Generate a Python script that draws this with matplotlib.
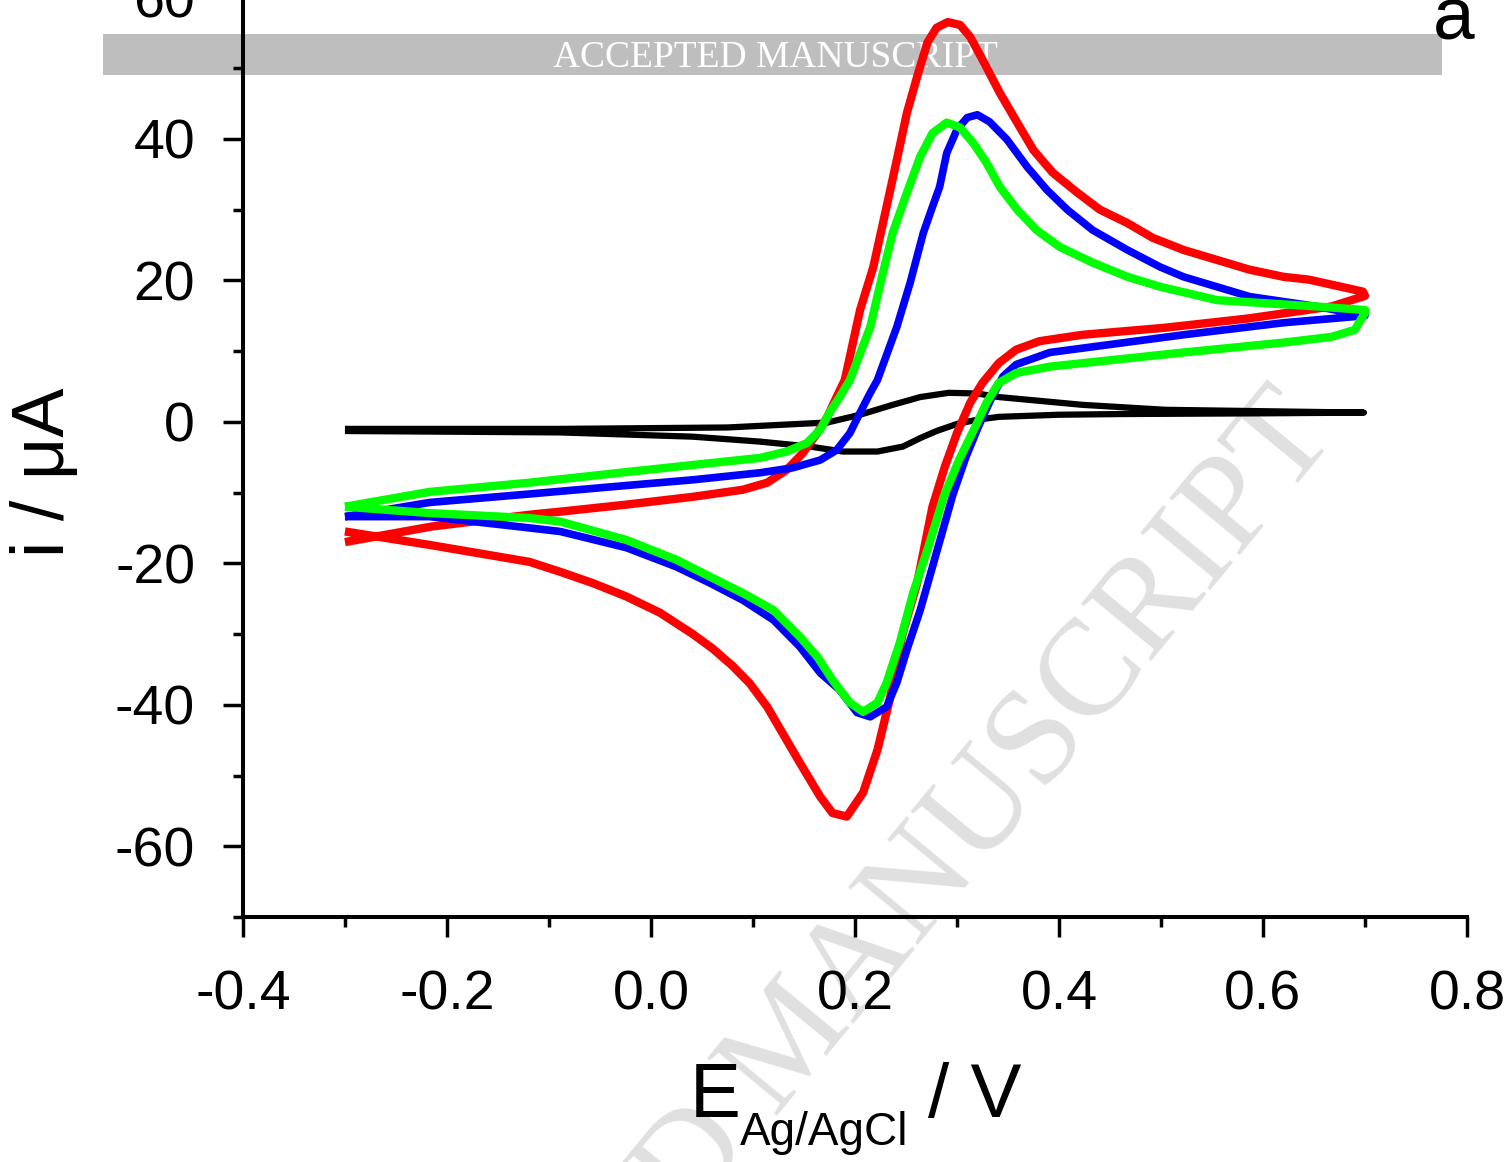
import matplotlib
matplotlib.use("Agg")
import matplotlib.pyplot as plt
from matplotlib.patches import Rectangle
from matplotlib.ticker import MultipleLocator

plt.rcParams['font.family'] = ['Liberation Sans', 'DejaVu Sans']
plt.rcParams['axes.unicode_minus'] = False

# cyclic voltammograms, potential in V vs Ag/AgCl, current in uA
# each trace: forward sweep -0.3 -> 0.7 V, then reverse sweep 0.7 -> -0.3 V
black_fwd_E = [-0.300, -0.089, 0.075, 0.173, 0.205, 0.237, 0.264, 0.292, 0.320, 0.341, 0.423, 0.504,
               0.600, 0.699]
black_fwd_i = [-1.0, -1.0, -0.8, -0.1, 1.0, 2.4, 3.5, 4.1, 4.0, 3.5, 2.4, 1.7,
               1.5, 1.3]
black_rev_E = [0.699, 0.600, 0.463, 0.400, 0.341, 0.320, 0.300, 0.280, 0.264, 0.247, 0.222, 0.188,
               0.156, 0.107, 0.041, -0.089, -0.300]
black_rev_i = [1.3, 1.2, 1.1, 1.0, 0.7, 0.3, -0.3, -1.3, -2.3, -3.5, -4.2, -4.2,
               -3.5, -2.8, -2.1, -1.5, -1.3]

red_fwd_E = [-0.300, -0.215, -0.117, -0.089, -0.024, 0.041, 0.090, 0.114, 0.133, 0.149, 0.163, 0.173,
             0.182, 0.190, 0.205, 0.218, 0.231, 0.241, 0.251, 0.261, 0.271, 0.280, 0.291, 0.303,
             0.313, 0.325, 0.342, 0.359, 0.375, 0.394, 0.418, 0.440, 0.467, 0.492, 0.522, 0.587,
             0.620, 0.645, 0.698]
red_fwd_i = [-17.0, -14.8, -13.1, -12.7, -11.7, -10.6, -9.6, -8.6, -6.8, -4.4, -1.6, 0.7,
             3.5, 5.9, 15.8, 21.9, 30.4, 37.0, 43.7, 48.8, 53.6, 55.7, 56.5, 56.1,
             54.4, 51.2, 46.5, 42.3, 38.4, 35.2, 32.4, 30.0, 28.1, 26.0, 24.3, 21.5,
             20.5, 20.1, 18.4]
red_rev_E = [0.700, 0.667, 0.585, 0.504, 0.423, 0.381, 0.358, 0.341, 0.325, 0.313, 0.300, 0.288, 0.276,
             0.261, 0.247, 0.234, 0.222, 0.208, 0.192, 0.178, 0.166, 0.146, 0.129, 0.114, 0.097, 0.080,
             0.060, 0.041, 0.009, -0.024, -0.057, -0.089, -0.119, -0.217, -0.300]
red_rev_i = [17.8, 16.3, 14.6, 13.3, 12.3, 11.4, 10.2, 8.3, 5.5, 2.7, -1.6, -6.4, -12.0,
             -22.8, -29.8, -39.3, -46.4, -52.4, -55.8, -55.3, -53.0, -48.2, -44.0, -40.3, -37.0, -34.5,
             -32.0, -30.0, -27.0, -24.7, -22.8, -21.2, -19.8, -17.4, -15.5]

blue_fwd_E = [-0.300, -0.217, -0.119, -0.024, 0.041, 0.107, 0.139, 0.166, 0.182, 0.195, 0.205, 0.215,
              0.222, 0.241, 0.254, 0.267, 0.276, 0.283, 0.290, 0.300, 0.310, 0.320, 0.332, 0.349,
              0.369, 0.388, 0.408, 0.433, 0.467, 0.499, 0.522, 0.587, 0.653, 0.700]
blue_fwd_i = [-13.4, -11.4, -10.2, -9.0, -8.2, -7.2, -6.5, -5.4, -4.0, -1.6, 1.3, 4.1,
              5.9, 13.4, 19.6, 26.7, 30.4, 33.2, 38.0, 41.3, 43.0, 43.4, 42.4, 39.9,
              36.0, 32.8, 30.0, 27.1, 24.3, 21.9, 20.5, 17.7, 16.3, 15.0]
blue_rev_E = [0.700, 0.620, 0.522, 0.391, 0.358, 0.345, 0.333, 0.321, 0.309, 0.296, 0.276, 0.264,
              0.251, 0.241, 0.231, 0.215, 0.202, 0.185, 0.166, 0.146, 0.120, 0.090, 0.058, 0.025,
              -0.024, -0.089, -0.119, -0.217, -0.300]
blue_rev_i = [15.0, 14.0, 12.3, 9.8, 8.1, 6.4, 3.1, -0.7, -4.9, -10.3, -20.5, -26.6,
              -32.2, -36.9, -40.3, -41.7, -41.1, -37.9, -35.5, -31.8, -28.0, -25.2, -22.8, -20.5,
              -17.8, -15.5, -15.0, -13.4, -13.4]

green_fwd_E = [-0.300, -0.217, -0.119, -0.024, 0.041, 0.107, 0.133, 0.153, 0.166, 0.175, 0.185, 0.195,
               0.215, 0.225, 0.237, 0.251, 0.264, 0.276, 0.290, 0.303, 0.316, 0.329, 0.342, 0.359,
               0.378, 0.401, 0.433, 0.467, 0.499, 0.555, 0.653, 0.700]
green_fwd_i = [-12.0, -9.9, -8.6, -7.1, -6.1, -5.1, -4.2, -3.0, -1.1, 1.3, 3.5, 5.9,
               13.4, 19.6, 26.7, 32.4, 37.5, 40.8, 42.3, 41.6, 39.4, 36.6, 33.2, 30.0,
               27.1, 24.7, 22.5, 20.5, 19.1, 17.2, 16.3, 15.8]
green_rev_E = [0.700, 0.690, 0.667, 0.620, 0.522, 0.391, 0.358, 0.341, 0.329, 0.318, 0.302, 0.287,
               0.271, 0.257, 0.244, 0.231, 0.222, 0.208, 0.195, 0.178, 0.163, 0.146, 0.120, 0.090,
               0.058, 0.025, -0.024, -0.089, -0.119, -0.217, -0.300]
green_rev_i = [15.4, 13.0, 12.0, 11.2, 9.8, 7.8, 6.9, 5.5, 2.7, -0.7, -5.4, -10.6,
               -18.1, -24.2, -31.2, -36.9, -39.7, -41.0, -39.7, -36.5, -33.2, -30.4, -26.6, -24.2,
               -21.9, -19.5, -16.7, -14.1, -13.6, -12.9, -12.0]

traces = [
    (black_fwd_E + black_rev_E, black_fwd_i + black_rev_i, 'black', 4.5),
    (red_fwd_E + red_rev_E, red_fwd_i + red_rev_i, '#ff0000', 6.0),
    (blue_fwd_E + blue_rev_E, blue_fwd_i + blue_rev_i, '#0000ff', 5.5),
    (green_fwd_E + green_rev_E, green_fwd_i + green_rev_i, '#00ff00', 6.0),
]

fig = plt.figure(figsize=(15.1, 11.62), dpi=100)
ax = fig.add_axes([0.1609, 0.2108, 0.8106, 0.7915])
ax.patch.set_visible(False)

for E, i, c, lw in traces:
    ax.plot(E, i, color=c, lw=lw, solid_joinstyle='round', solid_capstyle='butt', zorder=2)

ax.set_xlim(-0.4, 0.8)
ax.set_ylim(-70, 60)
ax.xaxis.set_major_locator(MultipleLocator(0.2))
ax.xaxis.set_minor_locator(MultipleLocator(0.1))
ax.yaxis.set_major_locator(MultipleLocator(20))
ax.yaxis.set_minor_locator(MultipleLocator(10))
ax.xaxis.set_major_formatter(lambda v, p: f'{v:.1f}')
ax.yaxis.set_major_formatter(lambda v, p: f'{v:.0f}')

for s in ['top', 'right']:
    ax.spines[s].set_visible(False)
for s in ['left', 'bottom']:
    ax.spines[s].set_linewidth(2.9)
ax.tick_params(which='major', direction='out', length=14.5, width=2.5, labelsize=40)
ax.tick_params(which='minor', direction='out', length=7.5, width=2.5)
ax.tick_params(axis='x', which='major', pad=23)
ax.tick_params(axis='y', which='major', pad=20)

# axis titles
fig.text(45 / 1510, 1 - 472 / 1162, 'i / μA', rotation=90, ha='center', va='center', fontsize=53)
fig.text(690 / 1510, 1 - 1117 / 1162, 'E', ha='left', va='baseline', fontsize=55)
fig.text(740 / 1510, 1 - 1145 / 1162, 'Ag/AgCl', ha='left', va='baseline', fontsize=33)
fig.text(928 / 1510, 1 - 1117 / 1162, '/ V', ha='left', va='baseline', fontsize=55)
fig.text(1433 / 1510, 1 - 39 / 1162, 'a', ha='left', va='baseline', fontsize=54)

# manuscript banner and diagonal watermark (behind the traces)
ax.add_patch(Rectangle((103 / 1510, 1 - 75 / 1162), 1339 / 1510, 41 / 1162,
                       transform=fig.transFigure, facecolor='#bebebe', edgecolor='none',
                       clip_on=False, zorder=0.5))
ax.text(775 / 1510, 1 - 67 / 1162, 'ACCEPTED MANUSCRIPT', transform=fig.transFigure,
        ha='center', va='baseline', fontsize=27, color='white', family='Liberation Serif',
        clip_on=False, zorder=0.6)
ax.text(820 / 1510, 1 - 1064 / 1162, 'ACCEPTED MANUSCRIPT', transform=fig.transFigure,
        rotation=50.5, rotation_mode='anchor', ha='center', va='baseline', fontsize=99,
        color='#e0e0e0', family='Liberation Serif', clip_on=False, zorder=0.4)

fig.savefig('out.png', dpi=100)
